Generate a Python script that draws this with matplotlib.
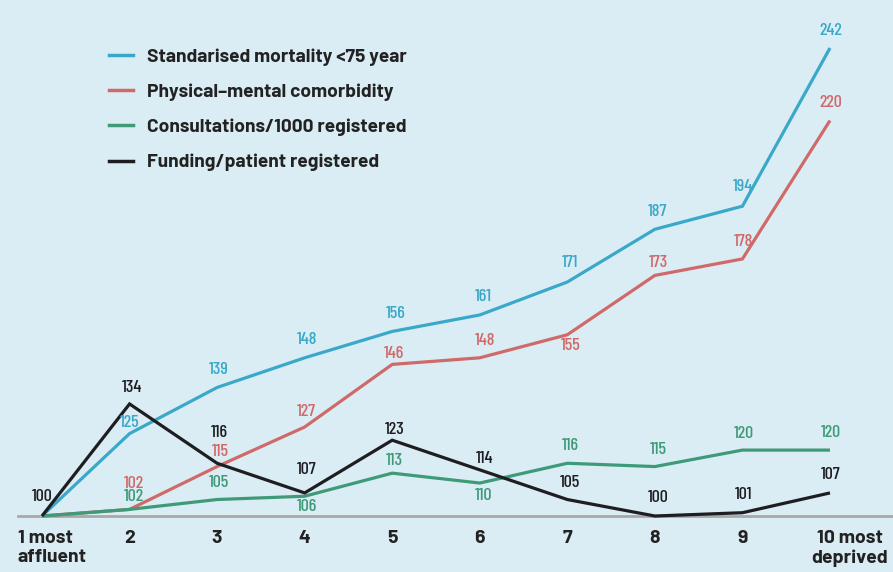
import matplotlib
matplotlib.use("Agg")
import matplotlib.pyplot as plt
from matplotlib.lines import Line2D

deciles = [1, 2, 3, 4, 5, 6, 7, 8, 9, 10]
tick_labels = ["1 most\naffluent", "2", "3", "4", "5", "6", "7", "8", "9", "10 most\ndeprived"]

series_names = ["Standarised mortality <75 year", "Physical\u2013mental comorbidity",
                "Consultations/1000 registered", "Funding/patient registered"]
mortality = [100, 125, 139, 148, 156, 161, 171, 187, 194, 242]
comorbidity = [100, 102, 115, 127, 146, 148, 155, 173, 178, 220]
consultations = [100, 102, 105, 106, 113, 110, 116, 115, 120, 120]
funding = [100, 134, 116, 107, 123, 114, 105, 100, 101, 107]

colors = ["#3aa8c9", "#d06a6a", "#3f9a78", "#1e1e22"]
bg = "#dbedf4"

# label offsets in pixels (dx, dy); None = no label
offsets = [
    [None, (0, 11), (2, 18), (2, 18), (3, 18), (4, 18), (3, 19), (3, 18), (1, 20), (1, 17)],
    [None, (4, 26), (3, 15), (2, 16), (2, 11), (5, 17), (3, -11), (4, 13), (1, 17), (1, 18)],
    [None, (4, 13), (2, 17), (2, -10), (2, 13), (4, -12), (3, 18), (3, 17), (1, 17), (1, 18)],
    [(0, 19), (2, 16), (2, 31), (2, 23), (2, 11), (5, 11), (3, 17), (3, 18), (1, 18), (1, 18)],
]

W, H = 893, 572
fig = plt.figure(figsize=(W / 100, H / 100), dpi=100, facecolor=bg)
ax_bottom_px = 516
ax = fig.add_axes([0, (H - ax_bottom_px) / H, 1, ax_bottom_px / H])
ax.set_facecolor(bg)
pxu = (830 - 42) / 9
ax.set_xlim(1 - 42 / pxu, 10 + (W - 830) / pxu)
ypx = (516 - 48) / 142
ax.set_ylim(100, 100 + ax_bottom_px / ypx)
for s in ax.spines.values():
    s.set_visible(False)
ax.set_xticks([])
ax.set_yticks([])

ax.axhline(100, xmin=18 / W, xmax=1, color="#a8a8a8", lw=2, zorder=1, clip_on=False)

all_series = [mortality, comorbidity, consultations, funding]
order = [2, 1, 0, 3]
for i in order:
    ax.plot(deciles, all_series[i], color=colors[i], lw=2.3, zorder=3 + i, clip_on=False,
            solid_capstyle="butt", solid_joinstyle="miter")

num_font = dict(family=["Barlow Condensed", "IBM Plex Sans Condensed", "DejaVu Sans"], fontsize=13, weight="medium")
for i, ser in enumerate(all_series):
    for x, y, off in zip(deciles, ser, offsets[i]):
        if off is None:
            continue
        ax.annotate(str(y), (x, y), xytext=(off[0] * 0.72, off[1] * 0.72), textcoords="offset points",
                    ha="center", va="center", color=colors[i], zorder=10, **num_font)

tick_font = dict(family=["Barlow", "Roboto", "DejaVu Sans"], weight="bold", fontsize=14, color="#222222")
for x, lab in zip(deciles, tick_labels):
    if x == 1:
        ax.annotate(lab, (x, 100), xytext=(-24 * 0.72, -14 * 0.72), textcoords="offset points",
                    ha="left", va="top", linespacing=1.15, annotation_clip=False, **tick_font)
    elif x == 10:
        ax.annotate(lab, (x, 100), xytext=(58 * 0.72, -14 * 0.72), textcoords="offset points",
                    ha="right", va="top", multialignment="center", linespacing=1.15,
                    annotation_clip=False, **tick_font)
    else:
        ax.annotate(lab, (x, 100), xytext=(0, -14 * 0.72), textcoords="offset points",
                    ha="center", va="top", annotation_clip=False, **tick_font)

handles = [Line2D([], [], color=c, lw=2.5) for c in colors]
leg = ax.legend(handles, series_names, loc="upper left", bbox_to_anchor=(109 / W, 1 - 48 / ax_bottom_px),
                frameon=False, borderpad=0, borderaxespad=0,
                handlelength=1.25, handletextpad=0.72, labelspacing=0.93,
                prop=dict(family=["Barlow", "Roboto", "DejaVu Sans"], weight="bold", size=13.8),
                labelcolor="#222222")

fig.savefig("out.png", dpi=100, facecolor=bg)
